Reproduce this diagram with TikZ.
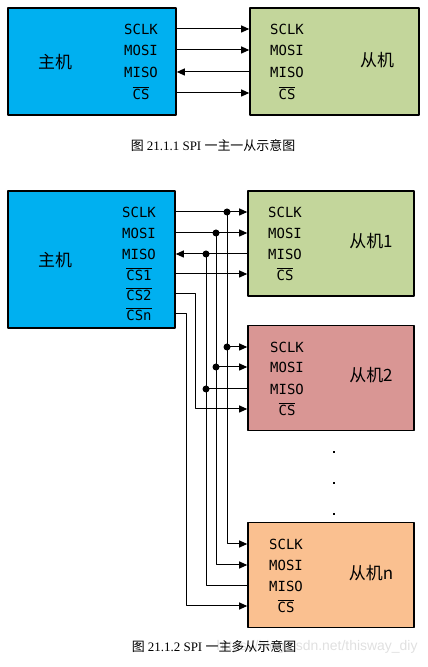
\documentclass[tikz,border=0pt]{standalone}
\usepackage{fontspec}
\setmainfont{Liberation Serif}
\newfontfamily\cjk{Noto Sans CJK SC}
\newfontfamily\sigfont{DejaVu Sans Mono}
\newfontfamily\wmfont{Liberation Sans}
\usetikzlibrary{arrows.meta,shapes}

\definecolor{mastercol}{HTML}{00B0F0}
\definecolor{slaveAcol}{HTML}{C3D69B}
\definecolor{slaveBcol}{HTML}{D99694}
\definecolor{slaveNcol}{HTML}{FAC090}

\tikzset{
  box/.style={draw=black,line width=1.6bp,inner sep=0pt},
  sig/.style={inner sep=0pt,font=\sigfont\fontsize{14}{16}\selectfont},
  cn/.style={inner sep=0pt,font=\cjk\fontsize{17}{20}\selectfont},
  caption/.style={inner sep=0pt,font=\fontsize{13}{15}\selectfont},
  junction/.style={fill=black},
}

\begin{document}
\begin{tikzpicture}[>={Triangle[length=8bp,width=7bp]},line join=bevel]
\pgfsetlinewidth{1bp}
\pgfsetcolor{black}
\useasboundingbox (0bp,0bp) rectangle (428bp,667bp);

% Figure 21.1.1
\node[box,fill=mastercol,minimum width=168bp,minimum height=107bp] (m1) at (92bp,605.5bp) {};
\node[box,fill=slaveAcol,minimum width=169bp,minimum height=107bp] (s1) at (334.5bp,605.5bp) {};
\node[cn] (m1name) at (55bp,605bp) {主机};
\node[cn] (s1name) at (377bp,607bp) {从机};

\node[sig] (m1sclk) at (141bp,638bp) {SCLK};
\node[sig] (m1mosi) at (141bp,617bp) {MOSI};
\node[sig] (m1miso) at (141bp,595bp) {MISO};
\node[sig] (m1cs)   at (141bp,574bp) {$\overline{\mbox{CS}}$};
\node[sig] (s1sclk) at (287bp,638bp) {SCLK};
\node[sig] (s1mosi) at (287bp,617bp) {MOSI};
\node[sig] (s1miso) at (287bp,595bp) {MISO};
\node[sig] (s1cs)   at (287bp,574bp) {$\overline{\mbox{CS}}$};

% Edges: m1 <-> s1
\draw [->] (m1sclk -| m1.east) -- (s1sclk -| s1.west);
\draw [->] (m1mosi -| m1.east) -- (s1mosi -| s1.west);
\draw [->] (s1miso -| s1.west) -- (m1miso -| m1.east);
\draw [->] (m1cs -| m1.east) -- (s1cs -| s1.west);

\node[caption] (cap1) at (213bp,521bp) {{\cjk 图} 21.1.1 SPI {\cjk 一主一从示意图}};

% Figure 21.1.2
\node[box,fill=mastercol,minimum width=167bp,minimum height=137bp] (m2) at (91.5bp,407.5bp) {};
\node[box,fill=slaveAcol,minimum width=166bp,minimum height=105bp] (sa) at (331bp,423.5bp) {};
\node[box,fill=slaveBcol,minimum width=166bp,minimum height=105bp] (sb) at (331bp,289bp) {};
\node[box,fill=slaveNcol,minimum width=166bp,minimum height=105bp] (sn) at (331bp,92bp) {};

\node[cn] (m2name) at (55bp,407bp) {主机};
\node[cn] (saname) at (371bp,426bp) {从机1};
\node[cn] (sbname) at (371bp,292bp) {从机2};
\node[cn] (snname) at (371bp,94bp) {从机n};

\node[sig] (m2sclk) at (139bp,455bp) {SCLK};
\node[sig] (m2mosi) at (139bp,434bp) {MOSI};
\node[sig] (m2miso) at (139bp,413bp) {MISO};
\node[sig] (m2csa)  at (139bp,393bp) {$\overline{\mbox{CS1}}$};
\node[sig] (m2csb)  at (139bp,373bp) {$\overline{\mbox{CS2}}$};
\node[sig] (m2csn)  at (139bp,353bp) {$\overline{\mbox{CSn}}$};

\node[sig] (sasclk) at (285bp,455bp) {SCLK};
\node[sig] (samosi) at (285bp,434bp) {MOSI};
\node[sig] (samiso) at (285bp,413bp) {MISO};
\node[sig] (sacs)   at (285bp,393bp) {$\overline{\mbox{CS}}$};

\node[sig] (sbsclk) at (287bp,320bp) {SCLK};
\node[sig] (sbmosi) at (287bp,300bp) {MOSI};
\node[sig] (sbmiso) at (287bp,278bp) {MISO};
\node[sig] (sbcs)   at (287bp,258bp) {$\overline{\mbox{CS}}$};

\node[sig] (snsclk) at (286bp,123bp) {SCLK};
\node[sig] (snmosi) at (286bp,102bp) {MOSI};
\node[sig] (snmiso) at (286bp,81bp)  {MISO};
\node[sig] (sncs)   at (286bp,61bp)  {$\overline{\mbox{CS}}$};

% Bus junctions
\coordinate (jclka) at (227bp,455bp);
\coordinate (jclkb) at (227bp,320bp);
\coordinate (jmosia) at (216bp,434bp);
\coordinate (jmosib) at (216bp,300bp);
\coordinate (jmisoa) at (206bp,413bp);
\coordinate (jmisob) at (206bp,278bp);
\coordinate (jcsb) at (195bp,373bp);
\coordinate (jcsn) at (186bp,353bp);

% Edges: m2 -> sa
\draw [->] (m2sclk -| m2.east) -- (sasclk -| sa.west);
\draw [->] (m2mosi -| m2.east) -- (samosi -| sa.west);
\draw [->] (samiso -| sa.west) -- (m2miso -| m2.east);
\draw [->] (m2csa -| m2.east) -- (sacs -| sa.west);

% Edges: bus -> sb
\draw [->] (jclkb) -- (sbsclk -| sb.west);
\draw [->] (jmosib) -- (sbmosi -| sb.west);
\draw (jmisob) -- (sbmiso -| sb.west);
\draw [->] (m2csb -| m2.east) -- (jcsb) |- (sbcs -| sb.west);

% Edges: bus -> sn
\draw [->] (jclka) |- (snsclk -| sn.west);
\draw [->] (jmosia) |- (snmosi -| sn.west);
\draw (jmisoa) |- (snmiso -| sn.west);
\draw [->] (m2csn -| m2.east) -- (jcsn) |- (sncs -| sn.west);

% Junction dots
\foreach \j in {jclka,jclkb,jmosia,jmosib,jmisoa,jmisob}
  \fill[junction] (\j) circle (3.5bp);

% Ellipsis
\foreach \y/\n in {215/e1,184/e2,153/e3}
  \node[fill=black,inner sep=0pt,minimum size=2.8bp] (\n) at (334bp,\y bp) {};

\node[inner sep=0pt,anchor=east,text=black!12,font=\wmfont\fontsize{14}{16}\selectfont] (wm) at (418bp,20bp) {https://blog.csdn.net/thisway\_diy};
\node[caption] (cap2) at (214bp,20bp) {{\cjk 图} 21.1.2 SPI {\cjk 一主多从示意图}};

\end{tikzpicture}
\end{document}
